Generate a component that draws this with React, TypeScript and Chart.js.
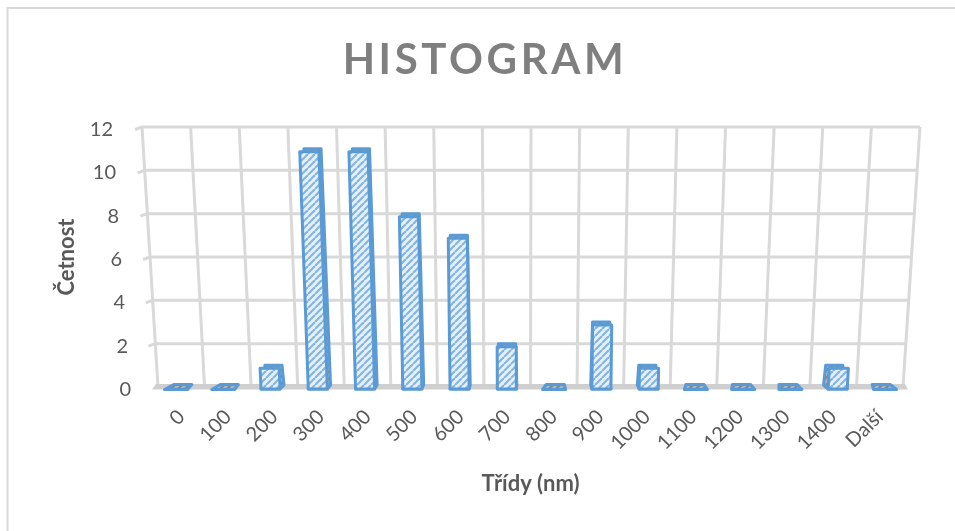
import React, { useEffect, useRef } from "react";
import { Chart, registerables } from "chart.js";

Chart.register(...registerables);

const categories = ["0", "100", "200", "300", "400", "500", "600", "700", "800", "900", "1000", "1100", "1200", "1300", "1400", "Další"];
const counts = [0, 0, 1, 11, 11, 8, 7, 2, 0, 3, 1, 0, 0, 0, 1, 0];
const yTicks = [0, 2, 4, 6, 8, 10, 12];
const titleText = "HISTOGRAM";
const xTitle = "Třídy (nm)";
const yTitle = "Četnost";

const GRID = "#d9d9d9";
const BLUE = "#5b9bd5";
const TEXT = "#595959";

function makeHatch(ctx: CanvasRenderingContext2D, bg: string, fg: string) {
  const s = 7;
  const c = document.createElement("canvas");
  c.width = s;
  c.height = s;
  const g = c.getContext("2d")!;
  g.fillStyle = bg;
  g.fillRect(0, 0, s, s);
  g.strokeStyle = fg;
  g.lineWidth = 2.2;
  for (const o of [-s, 0, s]) {
    g.beginPath();
    g.moveTo(o, s);
    g.lineTo(o + s, 0);
    g.stroke();
  }
  return ctx.createPattern(c, "repeat")!;
}

function poly(ctx: CanvasRenderingContext2D, pts: number[][]) {
  ctx.beginPath();
  pts.forEach((p, i) => (i ? ctx.lineTo(p[0], p[1]) : ctx.moveTo(p[0], p[1])));
  ctx.closePath();
}

const perspective = {
  id: "perspective",
  beforeDraw(chart: any) {
    const { ctx } = chart;
    const ys = chart.scales.y;
    const labels = ys.getLabelItems();
    labels.forEach((it: any, i: number) => {
      const py = ys.getPixelForTick(i);
      const t = (ys.bottom - py) / (ys.bottom - ys.top);
      it.options.translation[0] = 131 - 18 * t;
      it.options.translation[1] = py + 2.5;
    });
    ctx.save();
    ctx.fillStyle = "#ffffff";
    ctx.fillRect(0, 0, chart.width, chart.height);
    ctx.strokeStyle = GRID;
    ctx.lineWidth = 2;
    ctx.beginPath();
    ctx.moveTo(chart.width, 8);
    ctx.lineTo(7.5, 8);
    ctx.lineTo(7.5, chart.height);
    ctx.stroke();
    ctx.restore();
    (ctx as any).letterSpacing = "3.6px";
  },
  beforeDatasetsDraw(chart: any) {
    const { ctx } = chart;
    (ctx as any).letterSpacing = "0px";
    const xs = chart.scales.x;
    const ys = chart.scales.y;
    const H = ys.bottom - ys.top;
    const at = (px: number, py: number) => {
      const t = (ys.bottom - py) / H;
      const l = xs.left - 16 * t;
      const r = xs.right + 17 * t;
      return l + ((px - xs.left) / (xs.right - xs.left)) * (r - l);
    };
    ctx.save();
    ctx.strokeStyle = GRID;
    ctx.lineWidth = 3;
    const band = (xs.right - xs.left) / categories.length;
    for (let i = 0; i <= categories.length; i++) {
      const px = xs.left + band * i;
      ctx.beginPath();
      ctx.moveTo(at(px, ys.top), ys.top);
      ctx.lineTo(at(px, ys.bottom), ys.bottom);
      ctx.stroke();
    }
    yTicks.forEach((v) => {
      const py = ys.getPixelForValue(v);
      if (v === 0) return;
      ctx.beginPath();
      ctx.moveTo(at(xs.left, py) - 7, py + 2.5);
      ctx.lineTo(at(xs.left, py), py);
      ctx.lineTo(at(xs.right, py), py);
      ctx.stroke();
    });
    ctx.fillStyle = "#cfcfcf";
    poly(ctx, [
      [xs.left - 2, ys.bottom - 3],
      [xs.right + 2, ys.bottom - 3],
      [xs.right + 5, ys.bottom + 2.5],
      [xs.left - 6, ys.bottom + 2.5],
    ]);
    ctx.fill();
    ctx.restore();
  },
  afterDatasetsDraw(chart: any) {
    const { ctx } = chart;
    const xs = chart.scales.x;
    const ys = chart.scales.y;
    const H = ys.bottom - ys.top;
    const mid = (xs.left + xs.right) / 2;
    const hatch = makeHatch(ctx, "#e6f0fa", "#84b6e3");
    const hatchBack = makeHatch(ctx, "#a9b4bd", "#7d8790");
    const meta = chart.getDatasetMeta(0);
    ctx.save();
    ctx.lineJoin = "round";
    meta.data.forEach((el: any) => {
      const w = el.width;
      const t = (ys.bottom - el.y) / H;
      const frontScale = 1.015;
      const cx0 = mid + (el.x - mid) * frontScale;
      const lean = ((el.x - mid) / (xs.right - xs.left)) * 33 * t;
      const cxTop = cx0 + lean;
      const backScale = 0.9;
      const bx0 = mid + (el.x - mid) * 1.0;
      const bxTop = bx0 + lean;
      const flat = el.base - el.y < 1;
      ctx.strokeStyle = BLUE;
      ctx.lineWidth = 3;
      if (flat) {
        poly(ctx, [
          [bx0 - (w * backScale) / 2 + 1, el.base - 2.5],
          [bx0 + (w * backScale) / 2 + 2, el.base - 2.5],
          [cx0 + w / 2 + 2, el.base + 2.5],
          [cx0 - w / 2 - 2, el.base + 2.5],
        ]);
        ctx.fillStyle = hatchBack;
        ctx.fill();
        ctx.stroke();
        return;
      }
      const frontTopY = el.y + 3;
      const frontBottomY = el.base + 2;
      poly(ctx, [
        [bxTop - (w * backScale) / 2, el.y],
        [bxTop + (w * backScale) / 2, el.y],
        [bx0 + (w * backScale) / 2 + 1, el.base - 2],
        [cx0 + w / 2, frontBottomY],
        [cx0 - w / 2, frontBottomY],
        [bx0 - (w * backScale) / 2 - 1, el.base - 2],
      ]);
      ctx.fillStyle = hatchBack;
      ctx.fill();
      ctx.stroke();
      poly(ctx, [
        [cxTop - w / 2, frontTopY],
        [cxTop + w / 2, frontTopY],
        [cx0 + w / 2, frontBottomY],
        [cx0 - w / 2, frontBottomY],
      ]);
      ctx.fillStyle = hatch;
      ctx.fill();
      ctx.stroke();
    });
    ctx.restore();
  },
};

export default function App() {
  const ref = useRef<HTMLCanvasElement>(null);
  useEffect(() => {
    const chart = new Chart(ref.current!, {
      type: "bar",
      data: {
        labels: categories,
        datasets: [
          {
            label: "Četnost",
            data: counts,
            backgroundColor: "rgba(0,0,0,0)",
            borderWidth: 0,
            barPercentage: 0.41,
            categoryPercentage: 1,
          },
        ],
      },
      options: {
        animation: false,
        responsive: false,
        layout: { padding: { left: 67, right: 52, top: 35, bottom: 34 } },
        plugins: {
          legend: { display: false },
          tooltip: { enabled: false },
          title: {
            display: true,
            text: titleText,
            color: "#7f7f7f",
            font: { family: "Lato", size: 42, weight: "bold" },
            padding: { top: 0, bottom: 41.6 },
          },
        },
        scales: {
          x: {
            afterFit: (s: any) => { s.height = 110; },
            grid: { display: false, z: 1 },
            border: { display: false, z: 1 },
            ticks: {
              color: TEXT,
              font: { family: "Lato", size: 20 },
              minRotation: 45,
              maxRotation: 45,
              autoSkip: false,
              padding: 10,
              z: 1,
            },
            title: {
              display: true,
              text: xTitle,
              color: TEXT,
              font: { family: "Lato", size: 22, weight: "bold" },
              padding: 0,
            },
          },
          y: {
            min: 0,
            max: 12,
            afterFit: (s: any) => { s.width = 91; },
            afterBuildTicks: (s: any) => { s.ticks = yTicks.map((value) => ({ value })); },
            grid: { display: false, z: 1 },
            border: { display: false, z: 1 },
            ticks: {
              color: TEXT,
              font: { family: "Lato", size: 20 },
              z: 1,
            },
            title: {
              display: true,
              text: yTitle,
              color: TEXT,
              font: { family: "Lato", size: 22, weight: "bold" },
              padding: { top: -13, bottom: 0 },
            },
          },
        },
      },
      plugins: [perspective],
    } as any);
    return () => chart.destroy();
  }, []);
  return (
    <canvas
      ref={ref}
      width={955}
      height={531}
      style={{ position: "fixed", left: 0, top: 0, display: "block" }}
    />
  );
}
